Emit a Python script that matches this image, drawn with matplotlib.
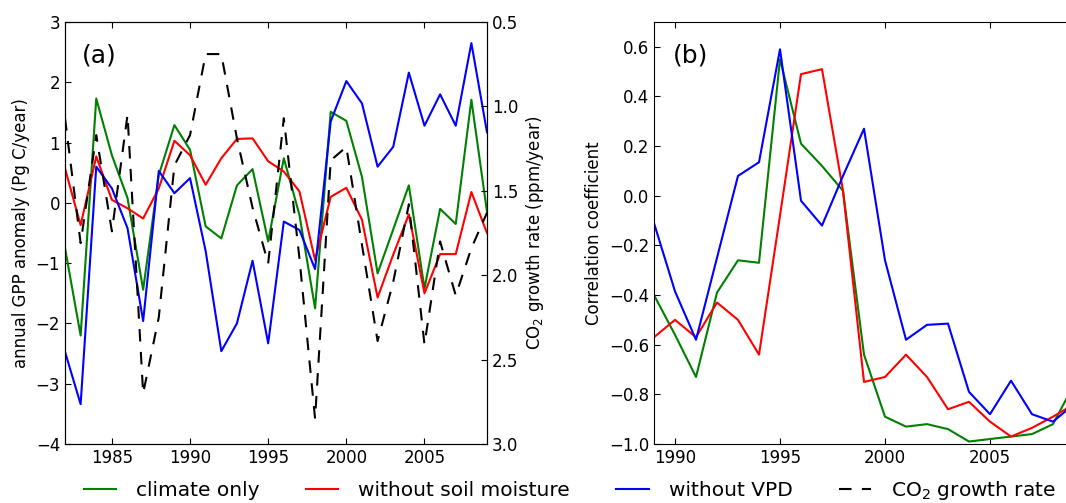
import matplotlib
matplotlib.use('Agg')
import matplotlib.pyplot as plt
from matplotlib.lines import Line2D

# ---- data ----
years_a = list(range(1982, 2010))
gpp_climate = [-0.75, -2.2, 1.73, 0.79, 0.08, -1.44, 0.46, 1.29, 0.88, -0.39,
               -0.59, 0.29, 0.56, -0.64, 0.74, -0.2, -1.75, 1.51, 1.36, 0.43,
               -1.17, -0.44, 0.29, -1.42, -0.10, -0.35, 1.71, -0.15]
gpp_nosm = [0.57, -0.37, 0.77, 0.05, -0.09, -0.26, 0.24, 1.03, 0.79, 0.30,
            0.74, 1.06, 1.07, 0.69, 0.52, 0.19, -0.95, 0.10, 0.25, -0.28,
            -1.57, -0.86, -0.19, -1.50, -0.85, -0.85, 0.18, -0.50]
gpp_novpd = [-2.47, -3.34, 0.60, 0.24, -0.42, -1.96, 0.53, 0.16, 0.41, -0.80,
             -2.46, -2.0, -0.96, -2.33, -0.31, -0.45, -1.10, 1.35, 2.02, 1.65,
             0.60, 0.93, 2.16, 1.28, 1.80, 1.28, 2.65, 1.17]
co2_rate = [1.07, 1.81, 1.17, 1.74, 1.05, 2.70, 2.25, 1.35, 1.17, 0.69,
            0.69, 1.19, 1.60, 1.93, 1.07, 1.90, 2.85, 1.32, 1.24, 1.82,
            2.39, 2.04, 1.58, 2.41, 1.80, 2.12, 1.84, 1.63]

years_b = list(range(1989, 2010))
corr_climate = [-0.40, -0.56, -0.73, -0.39, -0.26, -0.27, 0.55, 0.21, 0.12, 0.02,
                -0.64, -0.89, -0.93, -0.92, -0.94, -0.99, -0.98, -0.97, -0.96, -0.92, -0.76]
corr_nosm = [-0.57, -0.50, -0.57, -0.43, -0.50, -0.64, -0.08, 0.49, 0.51, 0.02,
             -0.75, -0.73, -0.64, -0.73, -0.86, -0.83, -0.91, -0.97, -0.935, -0.89, -0.84]
corr_novpd = [-0.11, -0.385, -0.58, -0.25, 0.08, 0.135, 0.59, -0.02, -0.12, 0.08,
              0.27, -0.26, -0.58, -0.52, -0.515, -0.79, -0.88, -0.745, -0.88, -0.91, -0.84]

labels = ['climate only', 'without soil moisture', 'without VPD', 'CO$_2$ growth rate']

plt.rcParams['font.family'] = ['DejaVu Sans']
plt.rcParams['xtick.direction'] = 'in'
plt.rcParams['ytick.direction'] = 'in'
plt.rcParams['xtick.major.size'] = 4
plt.rcParams['ytick.major.size'] = 4

fig = plt.figure(figsize=(10.66, 5.03), dpi=100)
W, H = 1066, 503

# panel (a)
ax1 = fig.add_axes([65 / W, 59 / H, 422 / W, 422 / H])
ax1.plot(years_a, gpp_climate, color='g', lw=1.5)
ax1.plot(years_a, gpp_nosm, color='r', lw=1.5)
ax1.plot(years_a, gpp_novpd, color='b', lw=1.5)
ax1.set_xlim(1982, 2009)
ax1.set_ylim(-4, 3)
ax1.set_xticks([1985, 1990, 1995, 2000, 2005])
ax1.set_yticks(range(-4, 4))
ax1.tick_params(labelsize=12, top=True)
ax1.set_ylabel('annual GPP anomaly (Pg C/year)', fontsize=12)
ax1.text(0.04, 0.92, '(a)', transform=ax1.transAxes, fontsize=18, va='center')

ax1r = ax1.twinx()
ax1r.plot(years_a, co2_rate, color='k', lw=1.5, linestyle=(0, (6, 5)))
ax1r.set_ylim(3.0, 0.5)
ax1r.set_yticks([0.5, 1.0, 1.5, 2.0, 2.5, 3.0])
ax1r.set_yticklabels(['0.5', '1.0', '1.5', '2.0', '2.5', '3.0'])
ax1r.tick_params(labelsize=12)
ax1r.set_ylabel('CO$_2$ growth rate (ppm/year)', fontsize=12)

# panel (b)
ax2 = fig.add_axes([654 / W, 59 / H, 420 / W, 422 / H])
ax2.plot(years_b, corr_climate, color='g', lw=1.5)
ax2.plot(years_b, corr_nosm, color='r', lw=1.5)
ax2.plot(years_b, corr_novpd, color='b', lw=1.5)
ax2.set_xlim(1989, 2009)
ax2.set_ylim(-1.0, 0.7)
ax2.set_xticks([1990, 1995, 2000, 2005])
ax2.set_yticks([-1.0, -0.8, -0.6, -0.4, -0.2, 0.0, 0.2, 0.4, 0.6])
ax2.tick_params(labelsize=12, top=True, right=True)
ax2.set_ylabel('Correlation coefficient', fontsize=12)
ax2.text(0.045, 0.92, '(b)', transform=ax2.transAxes, fontsize=18, va='center')

handles = [Line2D([], [], color='g', lw=1.5),
           Line2D([], [], color='r', lw=1.5),
           Line2D([], [], color='b', lw=1.5),
           Line2D([], [], color='k', lw=1.5, linestyle=(0, (6, 5)))]
fig.legend(handles, labels, loc='center', bbox_to_anchor=(570 / W, 1 - 491 / H),
           ncol=4, frameon=False, fontsize=14.5, handlelength=1.6,
           handletextpad=1.0, columnspacing=2.3)

fig.savefig('out.png', dpi=100)
